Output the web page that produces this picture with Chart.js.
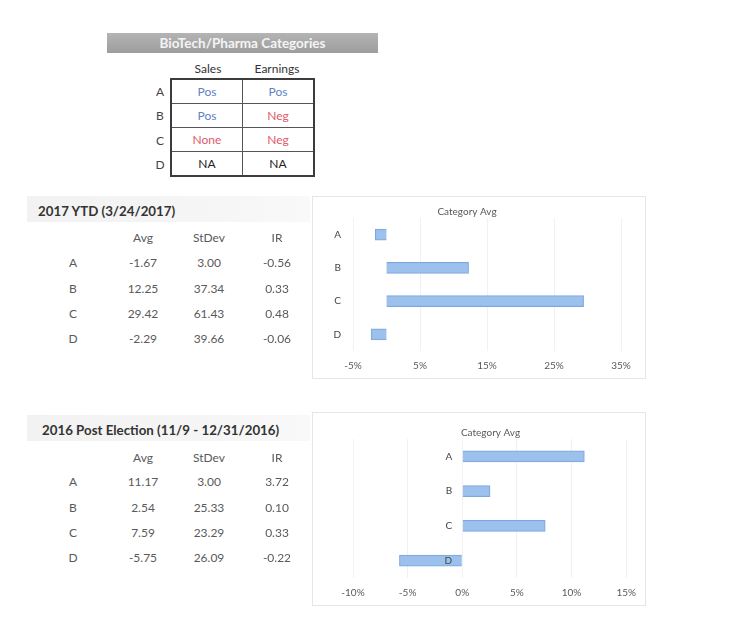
<!DOCTYPE html>
<html>
<head>
<meta charset="utf-8">
<script src="https://cdn.jsdelivr.net/npm/chart.js@4.4.0/dist/chart.umd.min.js"></script>
<style>
  body { margin: 0; background: #fff; font-family: Lato, "Open Sans", sans-serif; }
  #page { position: relative; width: 742px; height: 638px; overflow: hidden; }
  .abs { position: absolute; white-space: nowrap; }
  .c { transform: translate(-50%, -50%); }
  .band { position: absolute; background: linear-gradient(to right, #f2f2f2, #f6f6f6 70%, #f9f9f9); }
  .secTitle { position: absolute; font-weight: bold; font-size: 13.3px; color: #333; transform: translateY(-50%); }
  .cell { font-size: 12px; color: #5a5a5a; }
  #catTable { position: absolute; left: 170px; top: 78px; border-collapse: collapse; border: 2px solid #3c3c3c; }
  #catTable td { width: 70px; height: 23px; padding: 0; text-align: center; font-size: 12px; border: 1px solid #555; }
  canvas { position: absolute; outline: 1px solid #e6e6e6; }
</style>
</head>
<body>
<div id="page">
  <div class="abs" style="left:107px;top:33px;width:271px;height:20px;background:linear-gradient(#b4b4b4,#9d9d9d);color:#f4f4f4;font-weight:bold;font-size:13.5px;line-height:20px;text-align:center;">BioTech/Pharma Categories</div>
  <div class="abs c cell" style="left:208px;top:68px;color:#333;">Sales</div>
  <div class="abs c cell" style="left:277px;top:68px;color:#333;">Earnings</div>
  <table id="catTable"></table>

  <div class="band" style="left:27px;top:196px;width:283px;height:26px;"></div>
  <div class="secTitle" style="left:38px;top:211px;">2017 YTD (3/24/2017)</div>
  <div class="band" style="left:27px;top:415px;width:283px;height:26px;"></div>
  <div class="secTitle" style="left:42px;top:430px;">2016 Post Election (11/9 - 12/31/2016)</div>

  <canvas id="ytdChart" width="332" height="181" style="left:313px;top:197px;"></canvas>
  <canvas id="postChart" width="332" height="192" style="left:313px;top:413px;"></canvas>
</div>
<script>
// categories and values read from the sheet
const categories = ['A', 'B', 'C', 'D'];
const salesSignal = ['Pos', 'Pos', 'None', 'NA'];
const earningsSignal = ['Pos', 'Neg', 'Neg', 'NA'];
const statHeaders = ['Avg', 'StDev', 'IR'];

const ytdAvg = [-1.67, 12.25, 29.42, -2.29];
const ytdStDev = [3.00, 37.34, 61.43, 39.66];
const ytdIR = [-0.56, 0.33, 0.48, -0.06];

const postAvg = [11.17, 2.54, 7.59, -5.75];
const postStDev = [3.00, 25.33, 23.29, 26.09];
const postIR = [3.72, 0.10, 0.33, -0.22];

const ytdTicks = [-5, 5, 15, 25, 35];
const postTicks = [-10, -5, 0, 5, 10, 15];

const signalColor = { Pos: '#5b82c4', Neg: '#de5a6c', None: '#de5a6c', NA: '#222' };

const page = document.getElementById('page');

function addText(text, x, y, cls, color) {
    const d = document.createElement('div');
    d.className = 'abs c ' + cls;
    d.style.left = x + 'px';
    d.style.top = y + 'px';
    if (color) d.style.color = color;
    d.textContent = text;
    page.appendChild(d);
}

// top category table
const catTable = document.getElementById('catTable');
categories.forEach((cat, i) => {
    addText(cat, 160, 91 + i * 24.3, 'cell', '#444');
    const tr = document.createElement('tr');
    [salesSignal[i], earningsSignal[i]].forEach(v => {
        const td = document.createElement('td');
        td.textContent = v;
        td.style.color = signalColor[v];
        tr.appendChild(td);
    });
    catTable.appendChild(tr);
});

// stats tables
const colX = [143, 209, 277];
function statsTable(headY, rowY, avg, sd, ir) {
    statHeaders.forEach((h, j) => addText(h, colX[j], headY, 'cell'));
    categories.forEach((cat, i) => {
        addText(cat, 73, rowY[i], 'cell');
        addText(avg[i].toFixed(2), colX[0], rowY[i], 'cell');
        addText(sd[i].toFixed(2), colX[1], rowY[i], 'cell');
        addText(ir[i].toFixed(2), colX[2], rowY[i], 'cell');
    });
}
statsTable(237, [262, 288, 313, 338], ytdAvg, ytdStDev, ytdIR);
statsTable(457, [481, 507, 532, 557], postAvg, postStDev, postIR);

Chart.defaults.font.family = 'Lato, "Open Sans", sans-serif';
Chart.defaults.color = '#595959';

function createAvgChart(id, values, ticks, titleTop, axisAtZero) {
    return new Chart(document.getElementById(id), {
        type: 'bar',
        data: {
            labels: categories,
            datasets: [{
                data: values,
                backgroundColor: 'rgba(152, 190, 236, 0.95)',
                borderColor: '#7ea6dc',
                borderWidth: 1,
                barThickness: 11
            }]
        },
        options: {
            indexAxis: 'y',
            responsive: false,
            animation: false,
            devicePixelRatio: 1,
            layout: { padding: { left: axisAtZero ? 40 : 0, right: axisAtZero ? 17 : 24, top: 0, bottom: 0 } },
            plugins: {
                legend: { display: false },
                tooltip: { enabled: false },
                title: {
                    display: true,
                    text: 'Category Avg',
                    color: '#595959',
                    font: { size: 10, weight: 'normal' },
                    padding: { top: titleTop, bottom: 0 }
                }
            },
            scales: {
                x: {
                    min: ticks[0],
                    max: ticks[ticks.length - 1],
                    afterBuildTicks: s => { s.ticks = ticks.map(v => ({ value: v })); },
                    afterFit: s => { s.height = 27; },
                    grid: { color: '#f1f1f1', drawTicks: false },
                    border: { display: false },
                    ticks: { padding: 9, font: { size: 10 }, callback: v => v + '%' }
                },
                y: {
                    position: axisAtZero ? { x: 0 } : 'left',
                    afterFit: s => { if (!axisAtZero) s.width = 40; },
                    grid: { display: false, drawTicks: false },
                    border: { display: false },
                    ticks: {
                        z: 1,
                        padding: 12,
                        font: { size: 10 },
                        color: '#444',
                        // labels sit right-aligned on the zero line, so push them off it a bit
                        callback: function (v) {
                            const lbl = this.getLabelForValue(v);
                            return axisAtZero ? lbl + '\u2003 ' : lbl;
                        }
                    }
                }
            }
        }
    });
}

createAvgChart('ytdChart', ytdAvg, ytdTicks, 9, false);
createAvgChart('postChart', postAvg, postTicks, 14, true);
</script>
</body>
</html>
